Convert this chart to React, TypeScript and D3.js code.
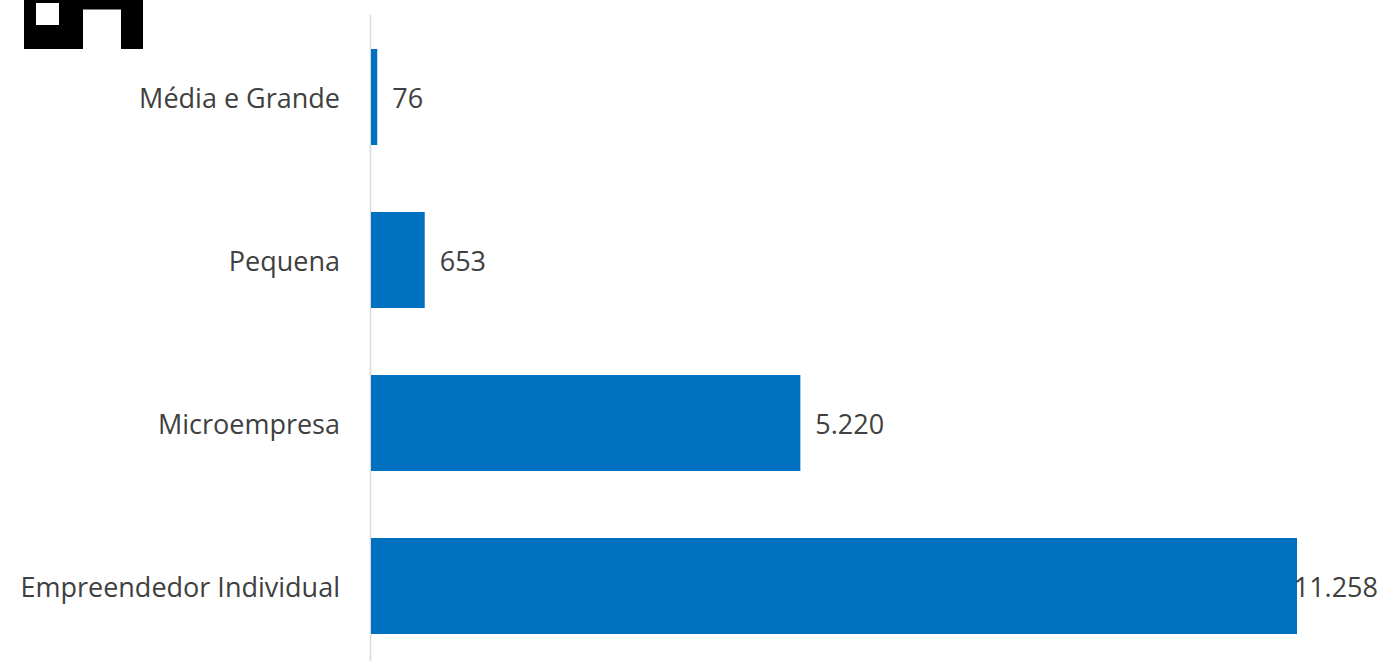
import React from "react";
import * as d3 from "d3";

const categories: string[] = ["Média e Grande", "Pequena", "Microempresa", "Empreendedor Individual"];
const values: number[] = [76, 653, 5220, 11258];

const W = 1382;
const H = 661;
const FONT = "'Open Sans', 'DejaVu Sans', sans-serif";
const FS = 27;
const TEXT = "#404040";
const BAR = "#0070C0";

const locale = d3.formatLocale({ decimal: ",", thousands: ".", grouping: [3], currency: ["R$", ""] });
const fmt = locale.format(",d");

export default function App() {
  const x = d3.scaleLinear().domain([0, d3.max(values) as number]).range([371, 1297]);
  const y = d3.scaleBand<string>().domain(categories).range([15.5, 667.5]).paddingInner(0.411).paddingOuter(0.2055);
  const bw = y.bandwidth();
  return (
    <div style={{ position: "absolute", left: 0, top: 0 }}>
      <svg width={W} height={H} style={{ display: "block", background: "#fff" }}>
        <path d="M24,0H143V49H121V9.5H83V49H24Z M36,3V25H59V3Z" fill="#000" fillRule="evenodd" />
        <line x1={370.5} x2={370.5} y1={15} y2={H} stroke="#d9d9d9" strokeWidth={1.5} />
        {categories.map((c, i) => {
          const v = values[i];
          const y0 = y(c) as number;
          const cy = y0 + bw / 2;
          const lab = fmt(v);
          const estW = lab.length * FS * 0.56;
          const lx = x(v) + 15;
          const overflow = lx + estW > W - 2;
          return (
            <g key={c}>
              <rect x={x(0)} y={y0} width={x(v) - x(0)} height={bw} fill={BAR} />
              <text x={340} y={cy} textAnchor="end" dominantBaseline="central" fontFamily={FONT} fontSize={FS} fill={TEXT}>
                {c}
              </text>
              <text
                x={overflow ? W - 4 : lx}
                y={cy}
                textAnchor={overflow ? "end" : "start"}
                dominantBaseline="central"
                fontFamily={FONT}
                fontSize={FS}
                fill={TEXT}
              >
                {lab}
              </text>
            </g>
          );
        })}
      </svg>
    </div>
  );
}
